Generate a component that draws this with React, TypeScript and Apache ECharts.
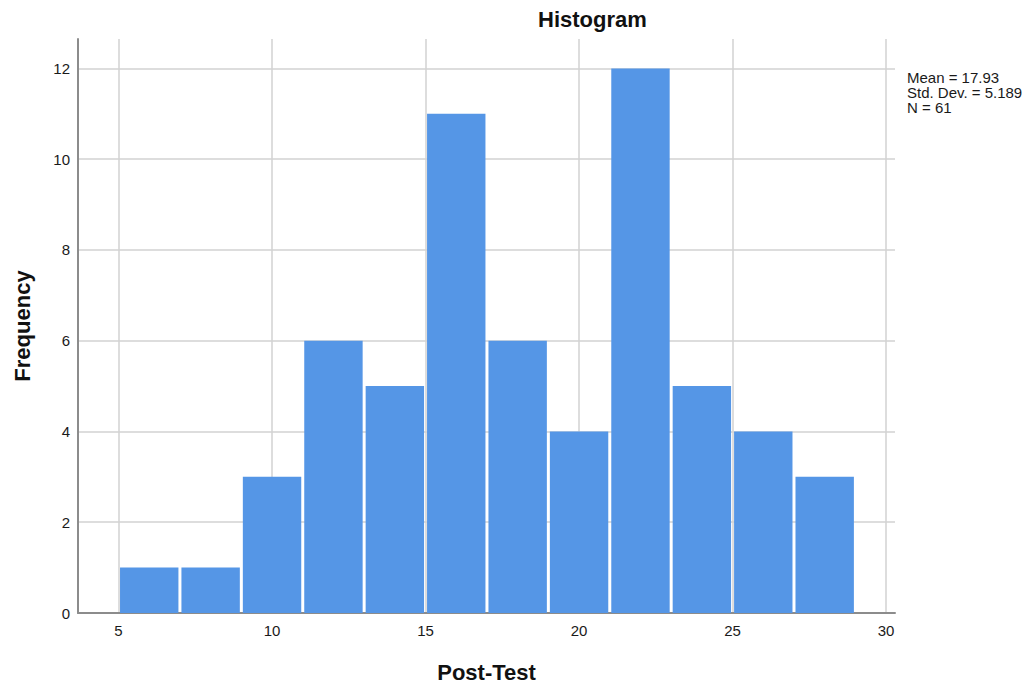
import React, { useEffect, useRef } from "react";
import * as echarts from "echarts";

const binEdges = [5, 7, 9, 11, 13, 15, 17, 19, 21, 23, 25, 27, 29];
const counts = [1, 1, 3, 6, 5, 11, 6, 4, 12, 5, 4, 3];
const xTicks = [5, 10, 15, 20, 25, 30];
const yTicks = [0, 2, 4, 6, 8, 10, 12];
const statsLines = ["Mean = 17.93", "Std. Dev. = 5.189", "N = 61"];
const chartTitle = "Histogram";
const xName = "Post-Test";
const yName = "Frequency";

const FONT = "'Liberation Sans', Arial, Helvetica, sans-serif";

export default function App() {
  const ref = useRef<HTMLDivElement>(null);
  useEffect(() => {
    if (!ref.current) return;
    const chart = echarts.init(ref.current, undefined, { renderer: "svg" });
    const data = counts.map((c, i) => [binEdges[i], binEdges[i + 1], c]);
    chart.setOption({
      animation: false,
      backgroundColor: "#ffffff",
      textStyle: { fontFamily: FONT },
      grid: { left: 78, right: 134, top: 39, bottom: 73.7, containLabel: false },
      xAxis: {
        type: "value",
        min: 3.68,
        max: 30.29,
        name: xName,
        nameLocation: "middle",
        nameGap: 48,
        nameTextStyle: { fontFamily: FONT, fontSize: 22, fontWeight: "bold", color: "#111" },
        axisLine: { show: true, onZero: false, lineStyle: { color: "#8c8c8c", width: 2 } },
        axisTick: { show: false, customValues: xTicks },
        axisLabel: {
          customValues: xTicks,
          fontFamily: FONT,
          fontSize: 15,
          color: "#1a1a1a",
          margin: 10,
        },
        splitLine: { show: true, lineStyle: { color: "#d2d2d2", width: 1.5 } },
      },
      yAxis: {
        type: "value",
        min: 0,
        max: 12.65,
        name: yName,
        nameLocation: "middle",
        nameGap: 45,
        nameTextStyle: { fontFamily: FONT, fontSize: 22, fontWeight: "bold", color: "#111" },
        axisLine: { show: true, lineStyle: { color: "#8c8c8c", width: 2 } },
        axisTick: { show: false, customValues: yTicks },
        axisLabel: {
          customValues: yTicks,
          fontFamily: FONT,
          fontSize: 15,
          color: "#1a1a1a",
          margin: 8,
          verticalAlign: "middle",
          padding: [4, 0, 0, 0],
        },
        splitLine: { show: true, lineStyle: { color: "#d2d2d2", width: 1.5 } },
      },
      graphic: [
        {
          type: "text",
          left: 593 - 55,
          top: 8,
          style: {
            text: chartTitle,
            font: `bold 22px ${FONT}`,
            fill: "#111",
          },
        },
        {
          type: "text",
          left: 907,
          top: 70,
          style: {
            text: statsLines.join("\n"),
            font: `15px ${FONT}`,
            lineHeight: 15,
            fill: "#1a1a1a",
          },
        },
      ],
      series: [
        {
          type: "custom",
          data,
          encode: { x: [0, 1], y: 2 },
          renderItem: (params: any, api: any) => {
            const s = api.coord([api.value(0), 0]);
            const e = api.coord([api.value(1), api.value(2)]);
            return {
              type: "rect",
              shape: {
                x: s[0] + 1.5,
                y: e[1],
                width: e[0] - s[0] - 3,
                height: s[1] - e[1],
              },
              style: { fill: "#5596e6" },
            };
          },
        },
      ],
    });
    return () => chart.dispose();
  }, []);
  return (
    <div
      ref={ref}
      style={{ position: "fixed", left: 0, top: 0, width: 1029, height: 688, background: "#fff" }}
    />
  );
}
